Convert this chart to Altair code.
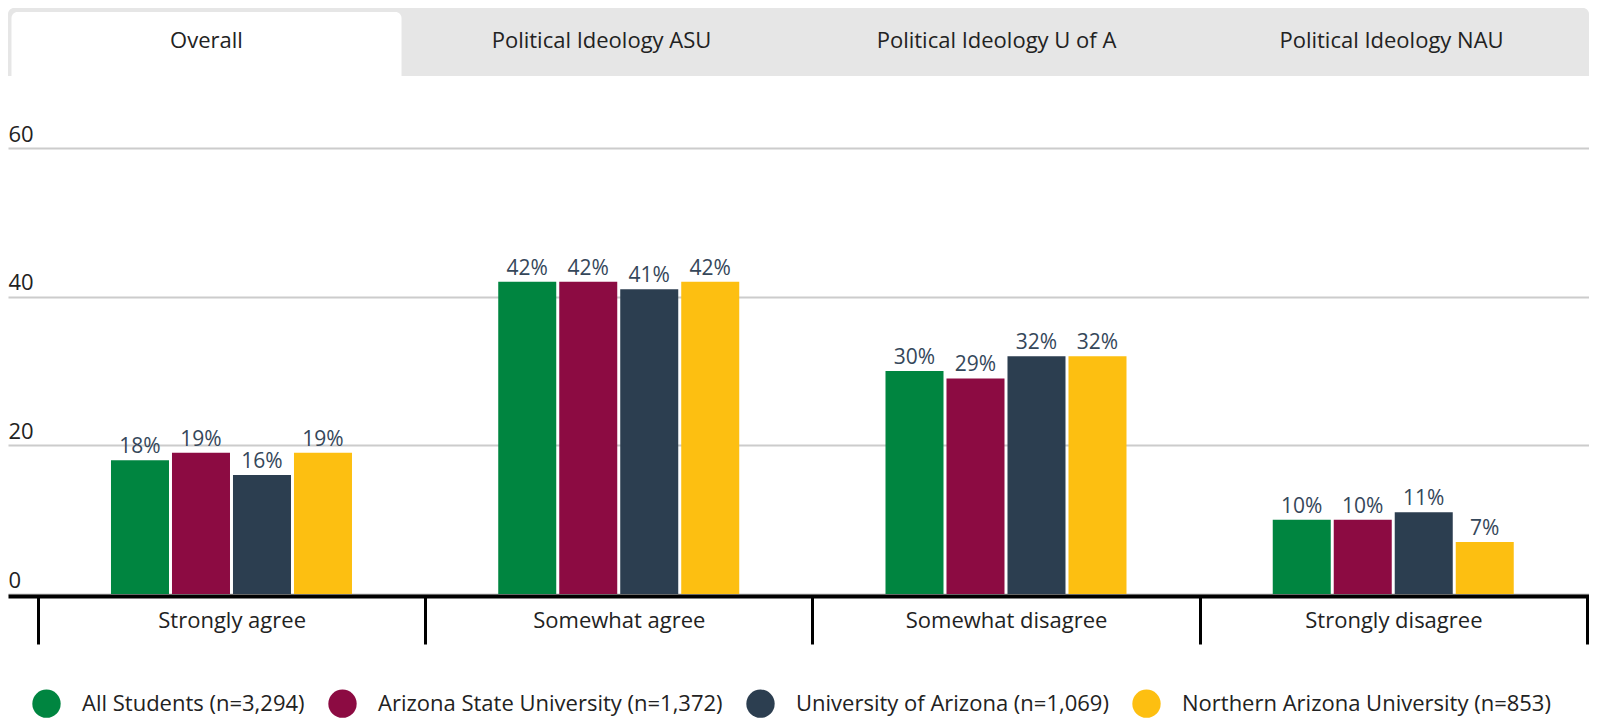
import altair as alt
import pandas as pd

categories = ["Strongly agree", "Somewhat agree", "Somewhat disagree", "Strongly disagree"]
groups = [
    "All Students (n=3,294)",
    "Arizona State University (n=1,372)",
    "University of Arizona (n=1,069)",
    "Northern Arizona University (n=853)",
]
all_students = [18, 42, 30, 10]
asu = [19, 42, 29, 10]
uofa = [16, 41, 32, 11]
nau = [19, 42, 32, 7]
colors = ["#008540", "#8c0b42", "#2c3e50", "#fdbf11"]
tabs = ["Overall", "Political Ideology ASU", "Political Ideology U of A", "Political Ideology NAU"]
active = [True, False, False, False]
y_ticks = [0, 20, 40, 60]

rows = []
for g, vals in zip(groups, [all_students, asu, uofa, nau]):
    for c, v in zip(categories, vals):
        rows.append({"category": c, "group": g, "value": v, "label": f"{v}%"})
df = pd.DataFrame(rows)
tab_df = pd.DataFrame({"tab": tabs, "active": active})
bg_df = pd.DataFrame({"k": [0]})

FONT = "Open Sans"
W = 1581
H = 446

x_axis = alt.Axis(
    title=None, orient="bottom", domainColor="black", domainWidth=4, offset=2,
    tickBand="extent", tickColor="black", tickWidth=3, tickSize=48,
    labelPadding=-24, labelBaseline="middle", labelFontSize=22, labelColor="#222222",
    labelFont=FONT, labelAngle=0, labelLimit=0, grid=False,
)
x_scale = alt.Scale(range=[0, W], paddingInner=0, paddingOuter=0.0413, align=0.9375)
y_enc = alt.Y(
    "value:Q",
    scale=alt.Scale(domain=[0, 60], nice=False),
    axis=alt.Axis(
        title=None, values=y_ticks, domain=False, ticks=False, tickSize=0, grid=True,
        gridColor="#cccccc", gridWidth=2, labelAlign="left", labelBaseline="alphabetic",
        labelPadding=0, labelOffset=-7, labelFontSize=22, labelColor="#222222", labelFont=FONT,
    ),
)
xoff = alt.XOffset("group:N", sort=groups, scale=alt.Scale(range=[73, 314], paddingInner=0.049, paddingOuter=0))

bars = alt.Chart(df).mark_bar().encode(
    x=alt.X("category:N", sort=categories, scale=x_scale, axis=x_axis),
    xOffset=xoff,
    y=y_enc,
    color=alt.Color(
        "group:N", sort=groups,
        scale=alt.Scale(domain=groups, range=colors),
        legend=alt.Legend(
            title=None, orient="none", legendX=24, legendY=541, direction="horizontal",
            symbolType="circle", symbolSize=804, symbolStrokeWidth=0, symbolOpacity=1,
            labelFontSize=22, labelFont=FONT, labelColor="#222222", labelOffset=21,
            labelLimit=0, columnPadding=23,
        ),
    ),
)
labels = alt.Chart(df).mark_text(
    baseline="alphabetic", dy=-7, fontSize=21, font=FONT, color="#35475a"
).encode(
    x=alt.X("category:N", sort=categories, scale=x_scale, axis=x_axis),
    xOffset=xoff,
    y=y_enc,
    text="label:N",
)
plot = alt.layer(bars, labels)

tab_x = alt.X("tab:N", sort=tabs, scale=alt.Scale(range=[1, W], paddingInner=0, paddingOuter=0), axis=None)
tab_bg = alt.Chart(bg_df).mark_rect(
    color="#e6e6e6", cornerRadiusTopLeft=6, cornerRadiusTopRight=6
).encode(x=alt.value(0), x2=alt.value(W), y=alt.value(-140), y2=alt.value(-72))
tab_active = alt.Chart(tab_df).transform_filter("datum.active").mark_bar(
    color="white", width=390, cornerRadiusTopLeft=6, cornerRadiusTopRight=6
).encode(x=tab_x, y=alt.value(-136), y2=alt.value(-72))
tab_text = alt.Chart(tab_df).mark_text(
    fontSize=22, font=FONT, color="#222222", baseline="middle"
).encode(x=tab_x, y=alt.value(-107), text="tab:N")
tabs_layer = alt.layer(tab_bg, tab_active, tab_text)

chart = alt.layer(tabs_layer, plot).resolve_scale(x="independent").properties(
    width=W, height=H,
    autosize=alt.AutoSizeParams(type="none"),
    padding={"left": 0, "top": 140, "right": 0, "bottom": 124},
    background="white",
).configure_view(stroke=None)

chart.save("out.html", embed_options={"renderer": "svg", "actions": False})
